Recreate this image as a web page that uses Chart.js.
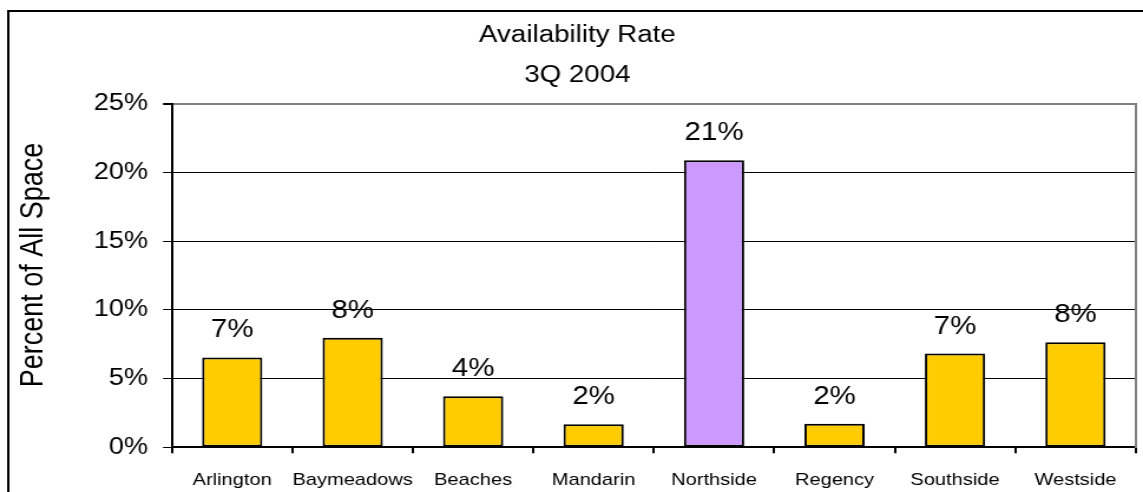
<!DOCTYPE html>
<html>
<head>
<meta charset="utf-8">
<title>Availability Rate 3Q 2004</title>
<script src="https://cdn.jsdelivr.net/npm/chart.js@4/dist/chart.umd.min.js"></script>
<style>
  html, body { margin: 0; padding: 0; background: #ffffff; overflow: hidden; }
  /* the drawing surface is widened on display, giving the wide-set lettering */
  #chart { display: block; width: 1143px !important; height: 492px !important; }
</style>
</head>
<body>
<canvas id="chart" width="969" height="492"></canvas>
<script>
// Submarket availability, 3Q 2004 (percent of all space)
const categories = ['Arlington', 'Baymeadows', 'Beaches', 'Mandarin', 'Northside', 'Regency', 'Southside', 'Westside'];
const availability = [6.53, 7.98, 3.71, 1.67, 20.9, 1.72, 6.82, 7.65];
const barColors = ['#FFCC00', '#FFCC00', '#FFCC00', '#FFCC00', '#CC99FF', '#FFCC00', '#FFCC00', '#FFCC00'];
const yTicks = [0, 5, 10, 15, 20, 25];
const titleLines = ['Availability Rate', '3Q 2004'];
const yTitle = 'Percent of All Space';

const FONT = "'Liberation Sans', Arial, Helvetica, sans-serif";

// Outer frame around the whole chart
const framePlugin = {
  id: 'frame',
  beforeDraw(chart) {
    const ctx = chart.ctx;
    ctx.save();
    ctx.fillStyle = '#ffffff';
    ctx.fillRect(0, 0, chart.width, chart.height);
    ctx.strokeStyle = '#000000';
    ctx.lineWidth = 2;
    ctx.strokeRect(7, 11, chart.width + 20, chart.height + 20);
    ctx.restore();
  }
};

// Vertical axis title, rotated, centred slightly above the plot middle
const axisTitle = {
  id: 'axisTitle',
  afterDraw(chart) {
    const ctx = chart.ctx;
    ctx.save();
    ctx.translate(29, 265);
    ctx.rotate(-Math.PI / 2);
    ctx.font = '27px ' + FONT;
    ctx.fillStyle = '#000000';
    ctx.textAlign = 'center';
    ctx.textBaseline = 'middle';
    ctx.fillText(yTitle, 0, 0);
    ctx.restore();
  }
};

// Rounded value labels above each bar
const valueLabels = {
  id: 'valueLabels',
  afterDatasetsDraw(chart) {
    const ctx = chart.ctx;
    const meta = chart.getDatasetMeta(0);
    ctx.save();
    ctx.font = '25px ' + FONT;
    ctx.fillStyle = '#000000';
    ctx.textAlign = 'center';
    ctx.textBaseline = 'middle';
    meta.data.forEach((bar, i) => {
      const v = chart.data.datasets[0].data[i];
      ctx.fillText(Math.round(v) + '%', bar.x, bar.y - 27);
    });
    ctx.restore();
  }
};

new Chart(document.getElementById('chart'), {
  type: 'bar',
  data: {
    labels: categories,
    datasets: [{
      data: availability,
      backgroundColor: barColors,
      borderColor: '#000000',
      borderWidth: 2,
      borderSkipped: false,
      barPercentage: 0.5,
      categoryPercentage: 1.0
    }]
  },
  options: {
    responsive: false,
    animation: false,
    devicePixelRatio: 1,
    layout: { padding: { left: 10, right: 0, top: 0, bottom: 0 } },
    plugins: {
      legend: { display: false },
      tooltip: { enabled: false },
      title: {
        display: true,
        text: titleLines,
        color: '#000000',
        font: { family: FONT, size: 23.5, weight: 'normal', lineHeight: 1.7 },
        padding: { top: 16, bottom: 8 }
      }
    },
    scales: {
      x: {
        offset: true,
        grid: {
          offset: true,
          drawOnChartArea: false,
          drawTicks: true,
          tickLength: 6,
          color: '#000000',
          lineWidth: 2
        },
        border: { display: true, color: '#000000', width: 2 },
        ticks: {
          color: '#000000',
          font: { family: FONT, size: 17 },
          padding: 17,
          maxRotation: 0,
          autoSkip: false
        },
        afterFit(scale) { scale.height = 492 - 447.3; }
      },
      y: {
        min: 0,
        max: 25,
        afterBuildTicks(scale) { scale.ticks = yTicks.map(v => ({ value: v })); },
        grid: {
          color: ctx => (ctx.tick && ctx.tick.value === 25) ? '#808080' : '#000000',
          tickColor: '#000000',
          lineWidth: ctx => (ctx.tick && ctx.tick.value === 25) ? 2 : 1,
          tickLength: 7.6,
          drawTicks: true
        },
        border: { display: true, color: '#000000', width: 2 },
        ticks: {
          color: '#000000',
          font: { family: FONT, size: 23 },
          padding: 12.7,
          callback: v => v + '%'
        },
        afterFit(scale) { scale.width = 145.8 - 10; }
      },
      yRight: {
        position: 'right',
        min: 0,
        max: 25,
        grid: { display: false, drawTicks: false },
        ticks: { display: false },
        border: { display: true, color: '#808080', width: 2 },
        afterFit(scale) { scale.width = 969 - 962.8; }
      }
    }
  },
  plugins: [framePlugin, valueLabels, axisTitle]
});
</script>
</body>
</html>
